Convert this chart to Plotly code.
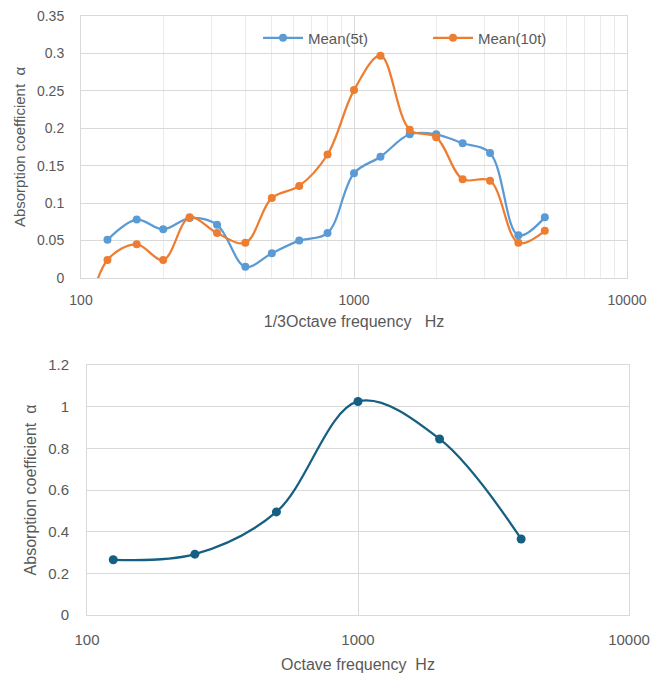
import plotly.graph_objects as go

# 1/3 octave data (top chart)
freq_third = [100, 125, 160, 200, 250, 315, 400, 500, 630, 800, 1000, 1250, 1600, 2000, 2500, 3150, 4000, 5000]
mean_5t = [None, 0.051, 0.078, 0.065, 0.080, 0.071, 0.015, 0.033, 0.050, 0.060, 0.140, 0.162, 0.192, 0.192, 0.180, 0.167, 0.057, 0.081]
mean_10t = [-0.09, 0.024, 0.045, 0.024, 0.081, 0.060, 0.047, 0.107, 0.123, 0.165, 0.251, 0.297, 0.198, 0.188, 0.132, 0.130, 0.047, 0.063]

# Octave data (bottom chart)
freq_oct = [125, 250, 500, 1000, 2000, 4000]
alpha_oct = [0.265, 0.292, 0.495, 1.025, 0.845, 0.365]

x_ticks = [100, 1000, 10000]
minor_ticks = [200, 300, 400, 500, 600, 700, 800, 900, 2000, 3000, 4000, 5000, 6000, 7000, 8000, 9000]

BLUE = "#5B9BD5"
ORANGE = "#ED7D31"
TEAL = "#156082"
GRID = "#D9D9D9"
TXT = "#595959"
FONT = "Liberation Sans"

W, H = 662, 678

fig = go.Figure()

fig.add_trace(go.Scatter(
    x=freq_third[1:], y=mean_5t[1:], name="Mean(5t)", mode="lines+markers",
    line=dict(color=BLUE, width=2.25, shape="spline", smoothing=1.0),
    marker=dict(color=BLUE, size=8), xaxis="x", yaxis="y"))
fig.add_trace(go.Scatter(
    x=freq_third, y=mean_10t, name="Mean(10t)", mode="lines+markers",
    line=dict(color=ORANGE, width=2.25, shape="spline", smoothing=1.0),
    marker=dict(color=ORANGE, size=8), xaxis="x", yaxis="y"))
fig.add_trace(go.Scatter(
    x=freq_oct, y=alpha_oct, name="Octave", mode="lines+markers", showlegend=False,
    line=dict(color=TEAL, width=2.25, shape="spline", smoothing=1.0),
    marker=dict(color=TEAL, size=9), xaxis="x2", yaxis="y2"))

def px_x(a, b):
    return [a / W, b / W]

def px_y(top, bottom):
    return [1 - bottom / H, 1 - top / H]

axis_common = dict(showline=True, linecolor=GRID, linewidth=1, mirror=True,
                   gridcolor=GRID, gridwidth=1, zeroline=False, automargin=False,
                   tickfont=dict(family=FONT, size=14, color=TXT), ticks="")

fig.update_layout(
    width=W, height=H, margin=dict(l=0, r=0, t=0, b=0, autoexpand=False),
    paper_bgcolor="white", plot_bgcolor="white",
    font=dict(family=FONT, color=TXT),
    showlegend=True,
    legend=dict(orientation="h", x=258 / W, y=1 - 38 / H, xanchor="left", yanchor="middle",
                bgcolor="rgba(0,0,0,0)", font=dict(family=FONT, size=15, color=TXT),
                entrywidth=115, entrywidthmode="pixels", itemwidth=40),
    xaxis=dict(axis_common, type="log", domain=px_x(81, 627), anchor="y",
               range=[2, 4], tickvals=x_ticks, ticktext=[str(v) for v in x_ticks],
               ticklabelstandoff=9,
               minor=dict(tickvals=minor_ticks, showgrid=True, gridcolor="#EBEBEB", gridwidth=1),
               title=dict(text="1/3Octave frequency   Hz", font=dict(family=FONT, size=16, color=TXT), standoff=9)),
    yaxis=dict(axis_common, domain=px_y(16, 278), anchor="x", range=[0, 0.35],
               tickvals=[0, 0.05, 0.1, 0.15, 0.2, 0.25, 0.3, 0.35],
               ticktext=["0", "0.05", "0.1", "0.15", "0.2", "0.25", "0.3", "0.35"],
               ticklabelstandoff=13,
               title=dict(text="Absorption coefficient  α", font=dict(family=FONT, size=15, color=TXT), standoff=7)),
    xaxis2=dict(axis_common, type="log", domain=px_x(87, 629), anchor="y2",
                range=[2, 4], tickvals=x_ticks, ticktext=[str(v) for v in x_ticks],
                ticklabelstandoff=11,
                title=dict(text="Octave frequency  Hz", font=dict(family=FONT, size=16, color=TXT), standoff=11)),
    yaxis2=dict(axis_common, domain=px_y(365, 615), anchor="x2", range=[0, 1.2],
                tickvals=[0, 0.2, 0.4, 0.6, 0.8, 1.0, 1.2],
                ticktext=["0", "0.2", "0.4", "0.6", "0.8", "1", "1.2"],
                ticklabelstandoff=14,
                title=dict(text="Absorption coefficient  α", font=dict(family=FONT, size=16, color=TXT), standoff=7)),
)
fig.update_layout(yaxis2_tickfont_size=15, xaxis2_tickfont_size=15)

fig.write_html("out.html")
